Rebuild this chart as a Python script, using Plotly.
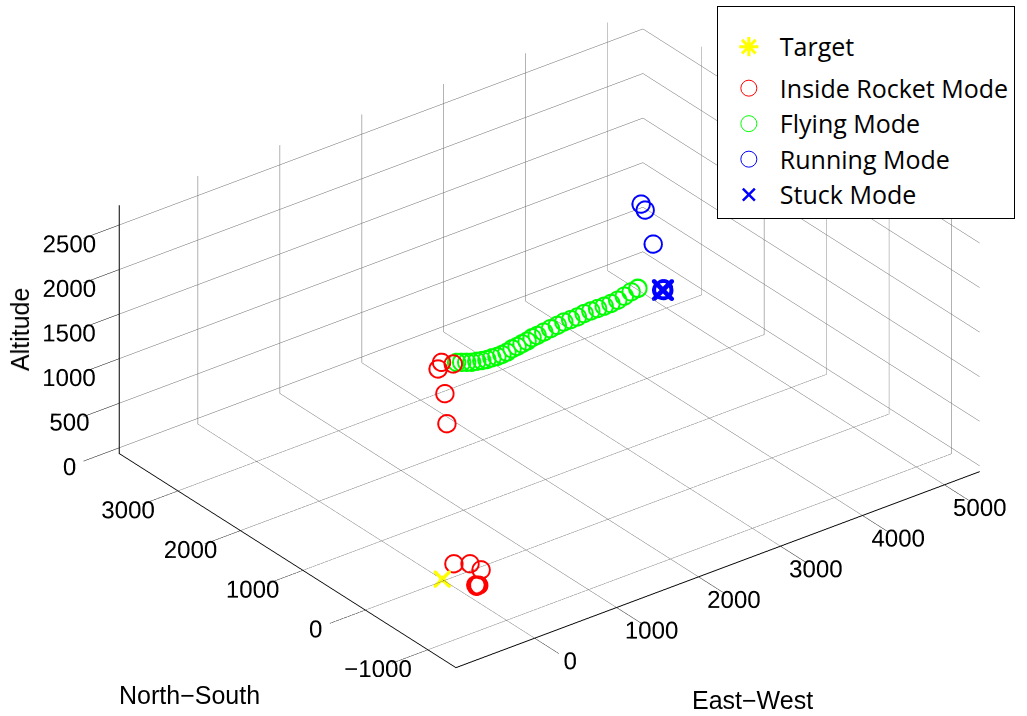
import plotly.graph_objects as go

# ---------------- data (metres) ----------------
target_x = [0]
target_y = [30]
target_z = [-60]

rocket_x = [119, 135, 110, 125, 105, 130, 115, 122, 208, 332, 344,
            -382, -390,
            -382, -361, -426, -357, -424, -431, -466, -453, -461, -301, -408, -391]
rocket_y = [-363, -370, -355, -350, -375, -360, -368, -358, 124, 29, -133,
            -538, -516,
            -452, -505, -536, -552, -452, -570, -578, -626, -527, -533, -523, -566]
rocket_z = [0, 5, 10, 0, 5, 0, 8, 3, 0, 0, 0,
            2070, 2400,
            2720, 2700, 2680, 2700, 2660, 2640, 2600, 2580, 2650, 2710, 2690, 2670]

fly_x = [-191, -60, 70, 200, 343, 482, 624, 775, 921, 1075, 1233, 1405, 1563, 1726,
         1888, 2059, 2217, 2400, 2584, 2768, 2950, 3123, 3298, 3482, 3657, 3829,
         4000, 4176, 4359, 4550, 4746, 4930, 4945, 4950]
fly_y = [-443, -352, -262, -171, -65, 36, 142, 260, 371, 493, 620, 764, 891, 1025,
         1156, 1301, 1427, 1561, 1695, 1827, 1961, 2079, 2201, 2335, 2457, 2575,
         2693, 2816, 2948, 3093, 3241, 3376, 3395, 3400]
fly_z = [2650, 2565, 2480, 2395, 2310, 2225, 2140, 2055, 1970, 1885, 1800, 1715,
         1630, 1545, 1460, 1375, 1290, 1205, 1120, 1035, 950, 865, 780, 695, 610,
         525, 440, 355, 270, 185, 100, 15, 0, 0]

run_x = [4946, 4968, 5002, 5062, 5110, 5125, 5130, 5118, 5122, 5115]
run_y = [3397, 3372, 3352, 3302, 3230, 3215, 3225, 3210, 3220, 3222]
run_z = [0, 950, 880, 500, 0, 0, 10, 0, 5, 0]

stuck_x = [5121, 5124]
stuck_y = [3219, 3216]
stuck_z = [0, 0]

x_range = [-960, 5430]
y_range = [-1450, 3940]
z_range = [-65, 2720]
x_ticks = [0, 1000, 2000, 3000, 4000, 5000]
y_ticks = [-1000, 0, 1000, 2000, 3000]
z_ticks = [0, 500, 1000, 1500, 2000, 2500]

legend_names = ["Target", "Inside Rocket Mode", "Flying Mode", "Running Mode", "Stuck Mode"]

# ---------------- figure ----------------
MS = 11
fig = go.Figure()

fig.add_trace(go.Scatter3d(x=target_x, y=target_y, z=target_z, mode="markers",
                           marker=dict(symbol="cross", size=4, color="#FFFF00"),
                           showlegend=False, hoverinfo="skip"))
fig.add_trace(go.Scatter3d(x=target_x, y=target_y, z=target_z, mode="markers",
                           marker=dict(symbol="x", size=4, color="#FFFF00"),
                           showlegend=False, hoverinfo="skip"))
fig.add_trace(go.Scatter3d(x=rocket_x, y=rocket_y, z=rocket_z, mode="markers",
                           marker=dict(symbol="circle-open", size=MS, color="#FF0000",
                                       line=dict(width=0)),
                           showlegend=False))
fig.add_trace(go.Scatter3d(x=fly_x, y=fly_y, z=fly_z, mode="markers",
                           marker=dict(symbol="circle-open", size=MS, color="#00FF00",
                                       line=dict(width=0)),
                           showlegend=False))
fig.add_trace(go.Scatter3d(x=run_x, y=run_y, z=run_z, mode="markers",
                           marker=dict(symbol="circle-open", size=MS, color="#0000FF",
                                       line=dict(width=0)),
                           showlegend=False))
fig.add_trace(go.Scatter3d(x=stuck_x, y=stuck_y, z=stuck_z, mode="markers",
                           marker=dict(symbol="x", size=5, color="#0000FF"),
                           showlegend=False))

leg_styles = [
    dict(symbol="asterisk-open", size=20, color="#FFFF00", line=dict(width=3, color="#FFFF00")),
    dict(symbol="circle-open", size=16, color="#FF0000", line=dict(width=1, color="#FF0000")),
    dict(symbol="circle-open", size=16, color="#00FF00", line=dict(width=1, color="#00FF00")),
    dict(symbol="circle-open", size=16, color="#0000FF", line=dict(width=1, color="#0000FF")),
    dict(symbol="x-thin-open", size=12, color="#0000FF", line=dict(width=2.5, color="#0000FF")),
]
leg_groups = ["a", "b", "b", "b", "b"]
for name, st, g in zip(legend_names, leg_styles, leg_groups):
    fig.add_trace(go.Scatter(x=[None], y=[None], mode="markers", name=name, marker=st,
                             legendgroup=g))

TICKF = dict(family="Liberation Sans", size=17, color="black")
axis_common = dict(showbackground=False, gridcolor="#666666", gridwidth=1,
                   showline=True, linecolor="black", linewidth=2,
                   ticks="outside", tickcolor="black",
                   zeroline=False, showspikes=False, tickangle=0,
                   tickfont=TICKF, title=dict(text=""))

TF = dict(family="Liberation Sans", size=25, color="black")

fig.update_layout(
    width=1027, height=716,
    margin=dict(l=0, r=0, t=0, b=0),
    paper_bgcolor="white", plot_bgcolor="white",
    xaxis=dict(visible=False), yaxis=dict(visible=False),
    scene=dict(
        domain=dict(x=[0.0, 1.0], y=[0.054, 1.0]),
        xaxis=dict(range=x_range, tickvals=x_ticks, ticklen=45, **axis_common),
        yaxis=dict(range=y_range, tickvals=y_ticks, ticklen=40, **axis_common),
        zaxis=dict(range=z_range, tickvals=z_ticks, ticklen=0, **axis_common),
        aspectmode="manual",
        aspectratio=dict(x=1.95, y=1.634, z=0.84),
        camera=dict(eye=dict(x=-0.6157, y=-0.6280, z=0.4879),
                    up=dict(x=0, y=0, z=1), center=dict(x=-0.0843, y=0.0646, z=0),
                    projection=dict(type="orthographic")),
        bgcolor="rgba(0,0,0,0)",
    ),
    legend=dict(x=0.698, y=0.9916, xanchor="left", yanchor="top",
                bgcolor="white", bordercolor="black", borderwidth=1,
                font=dict(family="Open Sans", size=25, color="black"),
                title=dict(text=" ", font=dict(size=13)),
                traceorder="grouped", tracegroupgap=6,
                itemwidth=52, itemsizing="trace"),
    annotations=[
        dict(text="Altitude", x=0.0195, y=0.539, xref="paper", yref="paper",
             xanchor="center", yanchor="middle",
             showarrow=False, textangle=-90, font=TF),
        dict(text="North\u2212South", x=0.185, y=0.029, xref="paper", yref="paper",
             xanchor="center", yanchor="middle", showarrow=False, font=TF),
        dict(text="East\u2212West", x=0.733, y=0.022, xref="paper", yref="paper",
             xanchor="center", yanchor="middle", showarrow=False, font=TF),
    ],
)

fig.write_html("out.html", config={"displayModeBar": False},
               post_script="document.body.style.margin='0';document.body.style.overflow='hidden';")
